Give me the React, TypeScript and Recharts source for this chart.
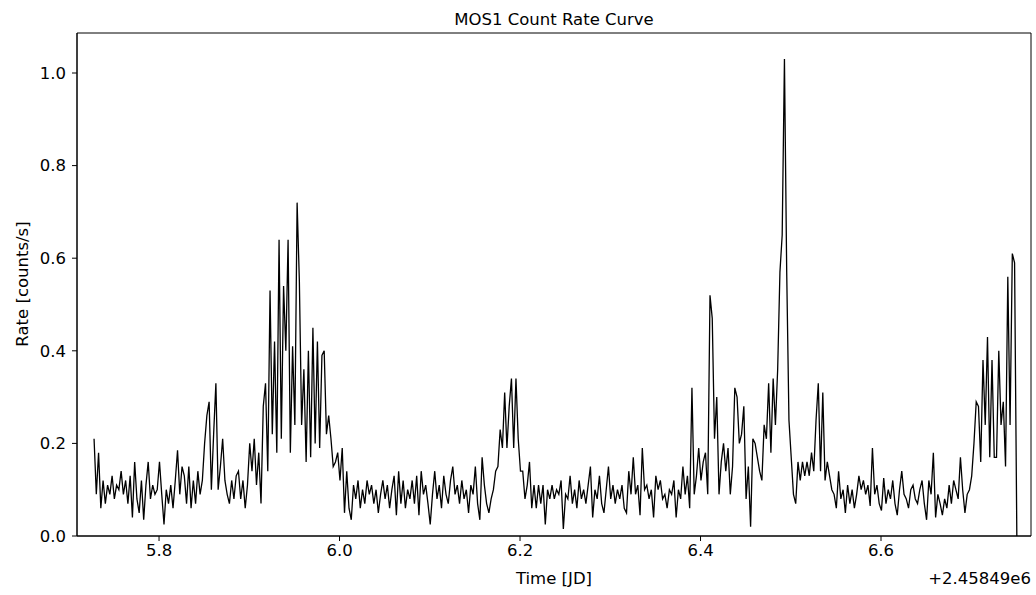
import {LineChart, Line, XAxis, YAxis, ReferenceArea, Label} from 'recharts';

const FONT = 'DejaVu Sans';

// light curve bins, 0.0025 d apart, starting at JD 2458495.728 (offset 2.45849e6)
const T0 = 5.728;
const DT = 0.0025;

const xTicks = [5.8, 6.0, 6.2, 6.4, 6.6];
const yTicks = [0, 0.2, 0.4, 0.6, 0.8, 1.0];
const X_DOMAIN: [number, number] = [5.7091, 6.7662];
const Y_DOMAIN: [number, number] = [0, 1.0864];

const rates = [
  0.21, 0.09, 0.18, 0.06, 0.12, 0.07, 0.11, 0.09, 0.13, 0.08,
  0.11, 0.10, 0.14, 0.09, 0.12, 0.07, 0.13, 0.04, 0.16, 0.08,
  0.05, 0.12, 0.035, 0.11, 0.16, 0.08, 0.11, 0.09, 0.10, 0.16,
  0.09, 0.025, 0.10, 0.07, 0.11, 0.06, 0.12, 0.185, 0.09, 0.15,
  0.13, 0.07, 0.15, 0.06, 0.12, 0.07, 0.14, 0.09, 0.12, 0.20,
  0.26, 0.29, 0.10, 0.22, 0.33, 0.10, 0.15, 0.21, 0.12, 0.09,
  0.07, 0.12, 0.08, 0.13, 0.14, 0.08, 0.12, 0.06, 0.11, 0.20,
  0.14, 0.21, 0.11, 0.18, 0.07, 0.28, 0.33, 0.14, 0.53, 0.22,
  0.42, 0.18, 0.64, 0.21, 0.54, 0.40, 0.64, 0.18, 0.41, 0.24,
  0.72, 0.55, 0.24, 0.36, 0.16, 0.40, 0.17, 0.45, 0.20, 0.42,
  0.19, 0.39, 0.40, 0.22, 0.26, 0.21, 0.15, 0.16, 0.18, 0.12,
  0.19, 0.05, 0.14, 0.06, 0.035, 0.11, 0.08, 0.12, 0.06, 0.10,
  0.07, 0.12, 0.09, 0.11, 0.07, 0.10, 0.05, 0.09, 0.12, 0.08,
  0.11, 0.06, 0.10, 0.13, 0.045, 0.14, 0.07, 0.12, 0.06, 0.10,
  0.08, 0.12, 0.07, 0.13, 0.045, 0.14, 0.09, 0.11, 0.07, 0.025,
  0.09, 0.14, 0.08, 0.11, 0.06, 0.13, 0.09, 0.07, 0.12, 0.15,
  0.09, 0.11, 0.07, 0.12, 0.08, 0.10, 0.05, 0.11, 0.09, 0.15,
  0.07, 0.035, 0.17, 0.11, 0.07, 0.05, 0.08, 0.10, 0.14, 0.15,
  0.23, 0.19, 0.31, 0.19, 0.28, 0.34, 0.19, 0.34, 0.21, 0.14,
  0.14, 0.08, 0.11, 0.16, 0.06, 0.11, 0.06, 0.11, 0.07, 0.11,
  0.025, 0.10, 0.08, 0.11, 0.08, 0.10, 0.09, 0.12, 0.015, 0.09,
  0.08, 0.13, 0.07, 0.10, 0.06, 0.12, 0.08, 0.10, 0.07, 0.11,
  0.15, 0.04, 0.10, 0.08, 0.13, 0.07, 0.05, 0.10, 0.15, 0.08,
  0.11, 0.07, 0.10, 0.08, 0.11, 0.06, 0.05, 0.14, 0.09, 0.17,
  0.09, 0.11, 0.045, 0.19, 0.10, 0.11, 0.08, 0.10, 0.04, 0.13,
  0.10, 0.12, 0.08, 0.09, 0.06, 0.10, 0.09, 0.12, 0.04, 0.10,
  0.08, 0.15, 0.09, 0.13, 0.06, 0.32, 0.09, 0.13, 0.19, 0.12,
  0.16, 0.18, 0.09, 0.52, 0.47, 0.21, 0.30, 0.09, 0.16, 0.20,
  0.14, 0.19, 0.09, 0.15, 0.32, 0.30, 0.20, 0.22, 0.28, 0.08,
  0.15, 0.02, 0.21, 0.20, 0.17, 0.14, 0.12, 0.24, 0.21, 0.33,
  0.18, 0.34, 0.24, 0.36, 0.57, 0.65, 1.03, 0.57, 0.25, 0.17,
  0.09, 0.07, 0.16, 0.12, 0.16, 0.13, 0.16, 0.13, 0.18, 0.14,
  0.25, 0.33, 0.14, 0.31, 0.12, 0.16, 0.13, 0.10, 0.09, 0.06,
  0.14, 0.08, 0.10, 0.05, 0.11, 0.07, 0.10, 0.06, 0.09, 0.13,
  0.10, 0.12, 0.09, 0.11, 0.065, 0.19, 0.09, 0.11, 0.07, 0.055,
  0.125, 0.07, 0.10, 0.08, 0.12, 0.07, 0.045, 0.10, 0.14, 0.09,
  0.08, 0.06, 0.10, 0.11, 0.08, 0.07, 0.10, 0.12, 0.07, 0.035,
  0.12, 0.09, 0.18, 0.04, 0.09, 0.07, 0.045, 0.08, 0.06, 0.11,
  0.07, 0.12, 0.10, 0.08, 0.17, 0.10, 0.05, 0.09, 0.10, 0.13,
  0.20, 0.29, 0.28, 0.16, 0.38, 0.24, 0.43, 0.17, 0.38, 0.17,
  0.17, 0.40, 0.24, 0.29, 0.15, 0.56, 0.24, 0.61, 0.59, 0.0,
];

const FS = 16.5;
const tickStyle = {fill: '#000', fontSize: FS, fontFamily: FONT};

export default function App() {
  const data = rates.map((rate, i) => ({t: T0 + i * DT, rate}));

  return (
    <div style={{position: 'absolute', left: 0, top: 0, width: 1036, height: 595, background: '#fff'}}>
      <LineChart width={1036} height={595} data={data} margin={{top: 33, right: 5, bottom: 0, left: 0}}>
        <XAxis
          type="number"
          dataKey="t"
          domain={X_DOMAIN}
          ticks={xTicks}
          allowDataOverflow
          height={59}
          tickSize={5}
          tickMargin={3}
          tick={tickStyle}
          tickFormatter={(v: number) => v.toFixed(1)}
          axisLine={{stroke: '#000'}}
          tickLine={{stroke: '#000'}}
        >
          <Label content={() => (
            <text x={554} y={584} textAnchor="middle" fontSize={FS} fontFamily={FONT} fill="#000">Time [JD]</text>
          )}/>
          <Label content={() => (
            <text x={1031} y={584} textAnchor="end" fontSize={FS} fontFamily={FONT} fill="#000">+2.45849e6</text>
          )}/>
          <Label content={() => (
            <text x={554} y={25} textAnchor="middle" fontSize={FS} fontFamily={FONT} fill="#000">MOS1 Count Rate Curve</text>
          )}/>
        </XAxis>
        <YAxis
          type="number"
          domain={Y_DOMAIN}
          ticks={yTicks}
          allowDataOverflow
          width={77}
          tickSize={5}
          tickMargin={6}
          tick={tickStyle}
          tickFormatter={(v: number) => v.toFixed(1)}
          axisLine={{stroke: '#000'}}
          tickLine={{stroke: '#000'}}
        >
          <Label content={() => (
            <text x={28} y={284} transform="rotate(-90 28 284)" textAnchor="middle" fontSize={FS} fontFamily={FONT} fill="#000">Rate [counts/s]</text>
          )}/>
        </YAxis>
        <ReferenceArea x1={X_DOMAIN[0]} x2={X_DOMAIN[1]} y1={Y_DOMAIN[0]} y2={Y_DOMAIN[1]} fill="none" stroke="#000" strokeWidth={1} ifOverflow="visible"/>
        <Line
          type="linear"
          dataKey="rate"
          stroke="#000"
          strokeWidth={1.3}
          dot={false}
          isAnimationActive={false}
        />
      </LineChart>
    </div>
  );
}
